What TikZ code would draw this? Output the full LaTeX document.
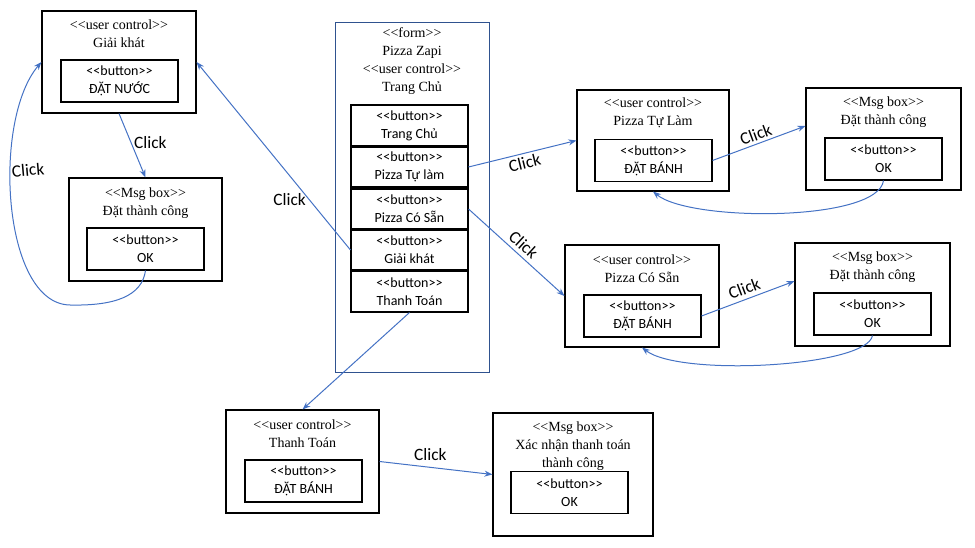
\documentclass[tikz,border=0pt]{standalone}
\usepackage{fontspec}
\newfontfamily\serif{Liberation Serif}
\newfontfamily\btnfont{Carlito}
\usetikzlibrary{fit,arrows.meta}
\definecolor{arrowblue}{HTML}{4472C4}
\definecolor{formblue}{HTML}{2F528F}

\begin{document}
\begin{tikzpicture}[x=0.75pt,y=-0.75pt]
\tikzstyle{box} = [rectangle, draw=black, inner sep=0pt, line width=0.8pt]
\tikzstyle{ttl} = [align=center, inner sep=0pt, font=\serif\fontsize{10.5}{13.5}\selectfont]
\tikzstyle{btn} = [rectangle, draw=black, inner sep=0pt, line width=0.8pt, minimum width=87.75pt, minimum height=31.5pt, align=center, font=\btnfont\fontsize{10.5}{13.5}\selectfont]
\tikzstyle{flow} = [-{Stealth[length=6pt,width=4.5pt]}, draw=arrowblue, line width=0.75pt]
\tikzstyle{click} = [font=\btnfont\fontsize{13}{15}\selectfont, inner sep=2pt]
\useasboundingbox (0,0) rectangle (975,548);

% form Pizza Zapi
\node (F) [box, draw=formblue, line width=0.6pt, fit={(335,22) (489,372)}] {};
\node (FT) [ttl] at (412,61.5) {<<form>>\\Pizza Zapi\\<<user control>>\\Trang Chủ};
\node (F1) [btn, minimum height=30.75pt] at (409.5,125.5) {<<button>>\\Trang Chủ};
\node (F2) [btn, minimum height=30pt] at (409.5,167) {<<button>>\\Pizza Tự làm};
\node (F3) [btn, minimum height=30pt] at (409.5,209) {<<button>>\\Pizza Có Sẵn};
\node (F4) [btn, minimum height=30pt] at (409.5,250) {<<button>>\\Giải khát};
\node (F5) [btn, minimum height=30.75pt] at (409.5,291.5) {<<button>>\\Thanh Toán};

% Giai khat
\node (U1) [box, fit={(42,11) (196,113)}] {};
\node (T1) [ttl] at (119,34) {<<user control>>\\Giải khát};
\node (B1) [btn] at (119.5,81) {<<button>>\\ĐẶT NƯỚC};
\node (M1) [box, fit={(69,178) (222,281)}] {};
\node (S1) [ttl] at (145.5,203) {<<Msg box>>\\Đặt thành công};
\node (K1) [btn] at (145.5,249) {<<button>>\\OK};

% Pizza Tu Lam
\node (U2) [box, fit={(577,90) (729,191)}] {};
\node (T2) [ttl] at (653,113) {<<user control>>\\Pizza Tự Làm};
\node (B2) [btn] at (653.5,160.5) {<<button>>\\ĐẶT BÁNH};
\node (M2) [box, fit={(806,88) (961,190)}] {};
\node (S2) [ttl] at (883.5,112) {<<Msg box>>\\Đặt thành công};
\node (K2) [btn] at (883.5,159) {<<button>>\\OK};

% Pizza Co San
\node (U3) [box, fit={(565,245) (719,347)}] {};
\node (T3) [ttl] at (642,269) {<<user control>>\\Pizza Có Sẵn};
\node (B3) [btn] at (642.5,316) {<<button>>\\ĐẶT BÁNH};
\node (M3) [box, fit={(795,243) (950,346)}] {};
\node (S3) [ttl] at (872.5,267.5) {<<Msg box>>\\Đặt thành công};
\node (K3) [btn] at (872.5,314) {<<button>>\\OK};

% Thanh Toan
\node (U4) [box, fit={(226,410) (379,513)}] {};
\node (T4) [ttl] at (302.5,434) {<<user control>>\\Thanh Toán};
\node (B4) [btn] at (303.5,481) {<<button>>\\ĐẶT BÁNH};
\node (M4) [box, fit={(493,413) (653,536)}] {};
\node (S4) [ttl] at (573,446) {<<Msg box>>\\Xác nhận thanh toán\\thành công};
\node (K4) [btn] at (569.5,492.5) {<<button>>\\OK};

% connectors
\draw[flow] (U1.south) -- (M1.north) node[click, pos=.45, right] {Click};
\draw[flow] (K1.south) .. controls (142,296) and (115,306) .. (70,305)
  .. controls (2,304) and (-8,120) .. (U1.west);
\node (C1) [click, rotate=5] at (28,170) {Click};
\draw[flow] (F4.west) -- (U1.east) node[click, pos=.27, left] {Click};
\draw[flow] (F2.east) -- (U2.west) node[click, midway, sloped, below] {Click};
\draw[flow] (B2.east) -- ([yshift=9.75pt]M2.west) node[click, midway, sloped, above] {Click};
\draw[flow] (K2.south) .. controls (878,222) and (690,222) .. (U2.south);
\draw[flow] (F3.east) -- (U3.west) node[click, pos=.5, sloped, above=1pt] {Click};
\draw[flow] (B3.east) -- ([yshift=10pt]M3.west) node[click, midway, sloped, above=1pt] {Click};
\draw[flow] (K3.south) .. controls (867,367) and (680,377) .. (U3.south);
\draw[flow] (F5.south) -- (U4.north);
\draw[flow] (U4.east) -- (M4.west) node[click, pos=.45, above=3pt] {Click};
\end{tikzpicture}
\end{document}
